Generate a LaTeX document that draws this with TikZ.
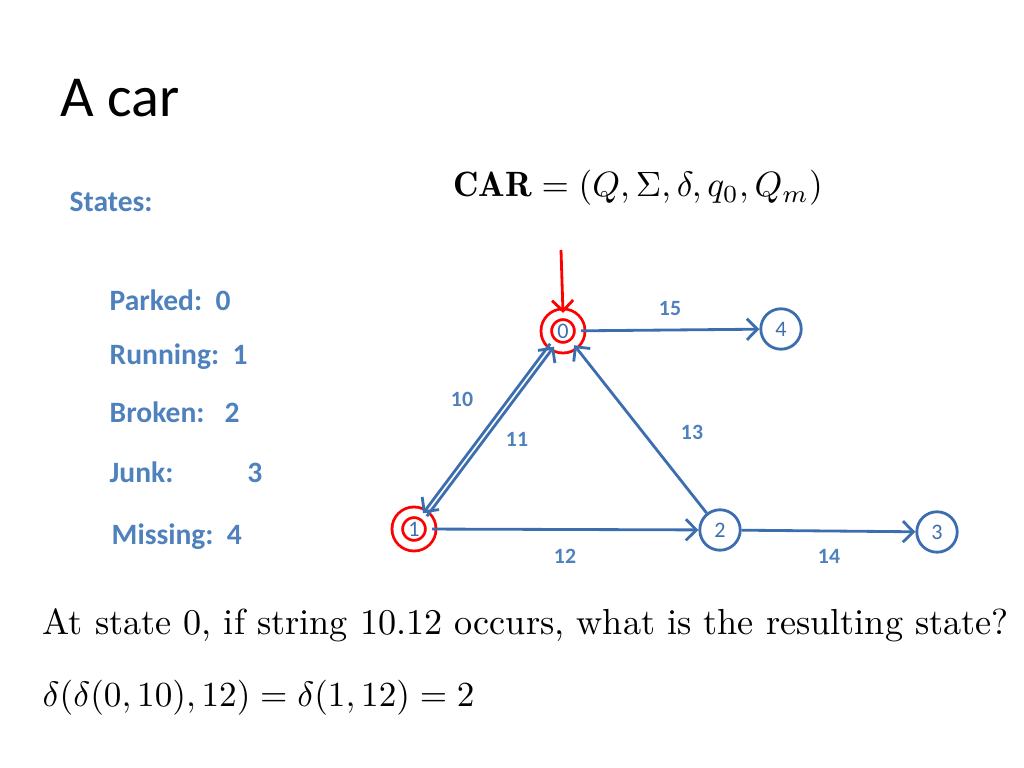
\documentclass[tikz,border=0pt]{standalone}
\usepackage{fontspec}
\usepackage{amsmath}
\newfontfamily\carfont{Carlito}
\usetikzlibrary{arrows.meta}
\definecolor{sblue}{RGB}{79,129,189}
\definecolor{lblue}{RGB}{60,110,175}
\begin{document}
\begin{tikzpicture}[x=0.01cm,y=-0.01cm,
  lab/.style={font=\carfont\bfseries\fontsize{8.4}{10}\selectfont,text=sblue,anchor=west,inner sep=0},
  st/.style={circle,draw=lblue,thick,minimum size=11.5pt,inner sep=0,font=\carfont\fontsize{6.3}{7}\selectfont,text=lblue},
  ist/.style={st,draw=red,double=white,double distance=2.2pt,minimum size=9.5pt},
  el/.style={font=\carfont\bfseries\fontsize{6.2}{7}\selectfont,text=sblue},
  ed/.style={draw=lblue,thick,-{Straight Barb[length=3pt]}}]
\useasboundingbox (0,0) rectangle (1024,768);
\node[anchor=west,inner sep=0,font=\carfont\fontsize{16.5}{19}\selectfont] (t) at (60,98) {A car};
\node[anchor=west,lab] (s) at (69,202) {States:};
\node[lab] (p0) at (109,300) {Parked:\ \ 0};
\node[lab] (p1) at (109,357) {Running:\ \ 1};
\node[lab] (p2) at (109,412) {Broken:\ \ \ 2};
\node[lab] (p3) at (109,472) {Junk:\hspace{21pt}3};
\node[lab] (p4) at (111,537) {Missing:\ \ 4};
\node[inner sep=0,font=\fontsize{10}{12}\selectfont] (f) at (638,188) {$\mathbf{CAR}=(Q,\Sigma,\delta,q_0,Q_m)$};
\node[ist] (n0) at (563,331) {0};
\node[ist] (n1) at (414,529) {1};
\node[st] (n2) at (720,530) {2};
\node[st] (n3) at (937,532) {3};
\node[st] (n4) at (781,329) {4};
\coordinate (i) at (561,250);
\draw[red,thick,-{Straight Barb[length=3pt]}] (i) -- (n0.north);
\draw[ed] (n0) -- (n4);
\draw[ed] (n0.225) -- (n1.60);
\draw[ed] (n1.45) -- (n0.240);
\draw[ed] (n2) -- (n0);
\draw[ed] (n1) -- (n2);
\draw[ed] (n2) -- (n3);
\node[el] (l15) at (670,309) {15};
\node[el] (l10) at (462,399) {10};
\node[el] (l11) at (517,439) {11};
\node[el] (l13) at (692,432) {13};
\node[el] (l12) at (565,556) {12};
\node[el] (l14) at (829,556) {14};
\node[anchor=west,inner sep=0,font=\fontsize{10.3}{12}\selectfont] (q) at (42,625) {At state 0, if string 10.12 occurs, what is the resulting state?};
\node[anchor=west,inner sep=0,font=\fontsize{10.3}{12}\selectfont] (a) at (42,698) {$\delta(\delta(0,10),12)=\delta(1,12)=2$};
\end{tikzpicture}
\end{document}
